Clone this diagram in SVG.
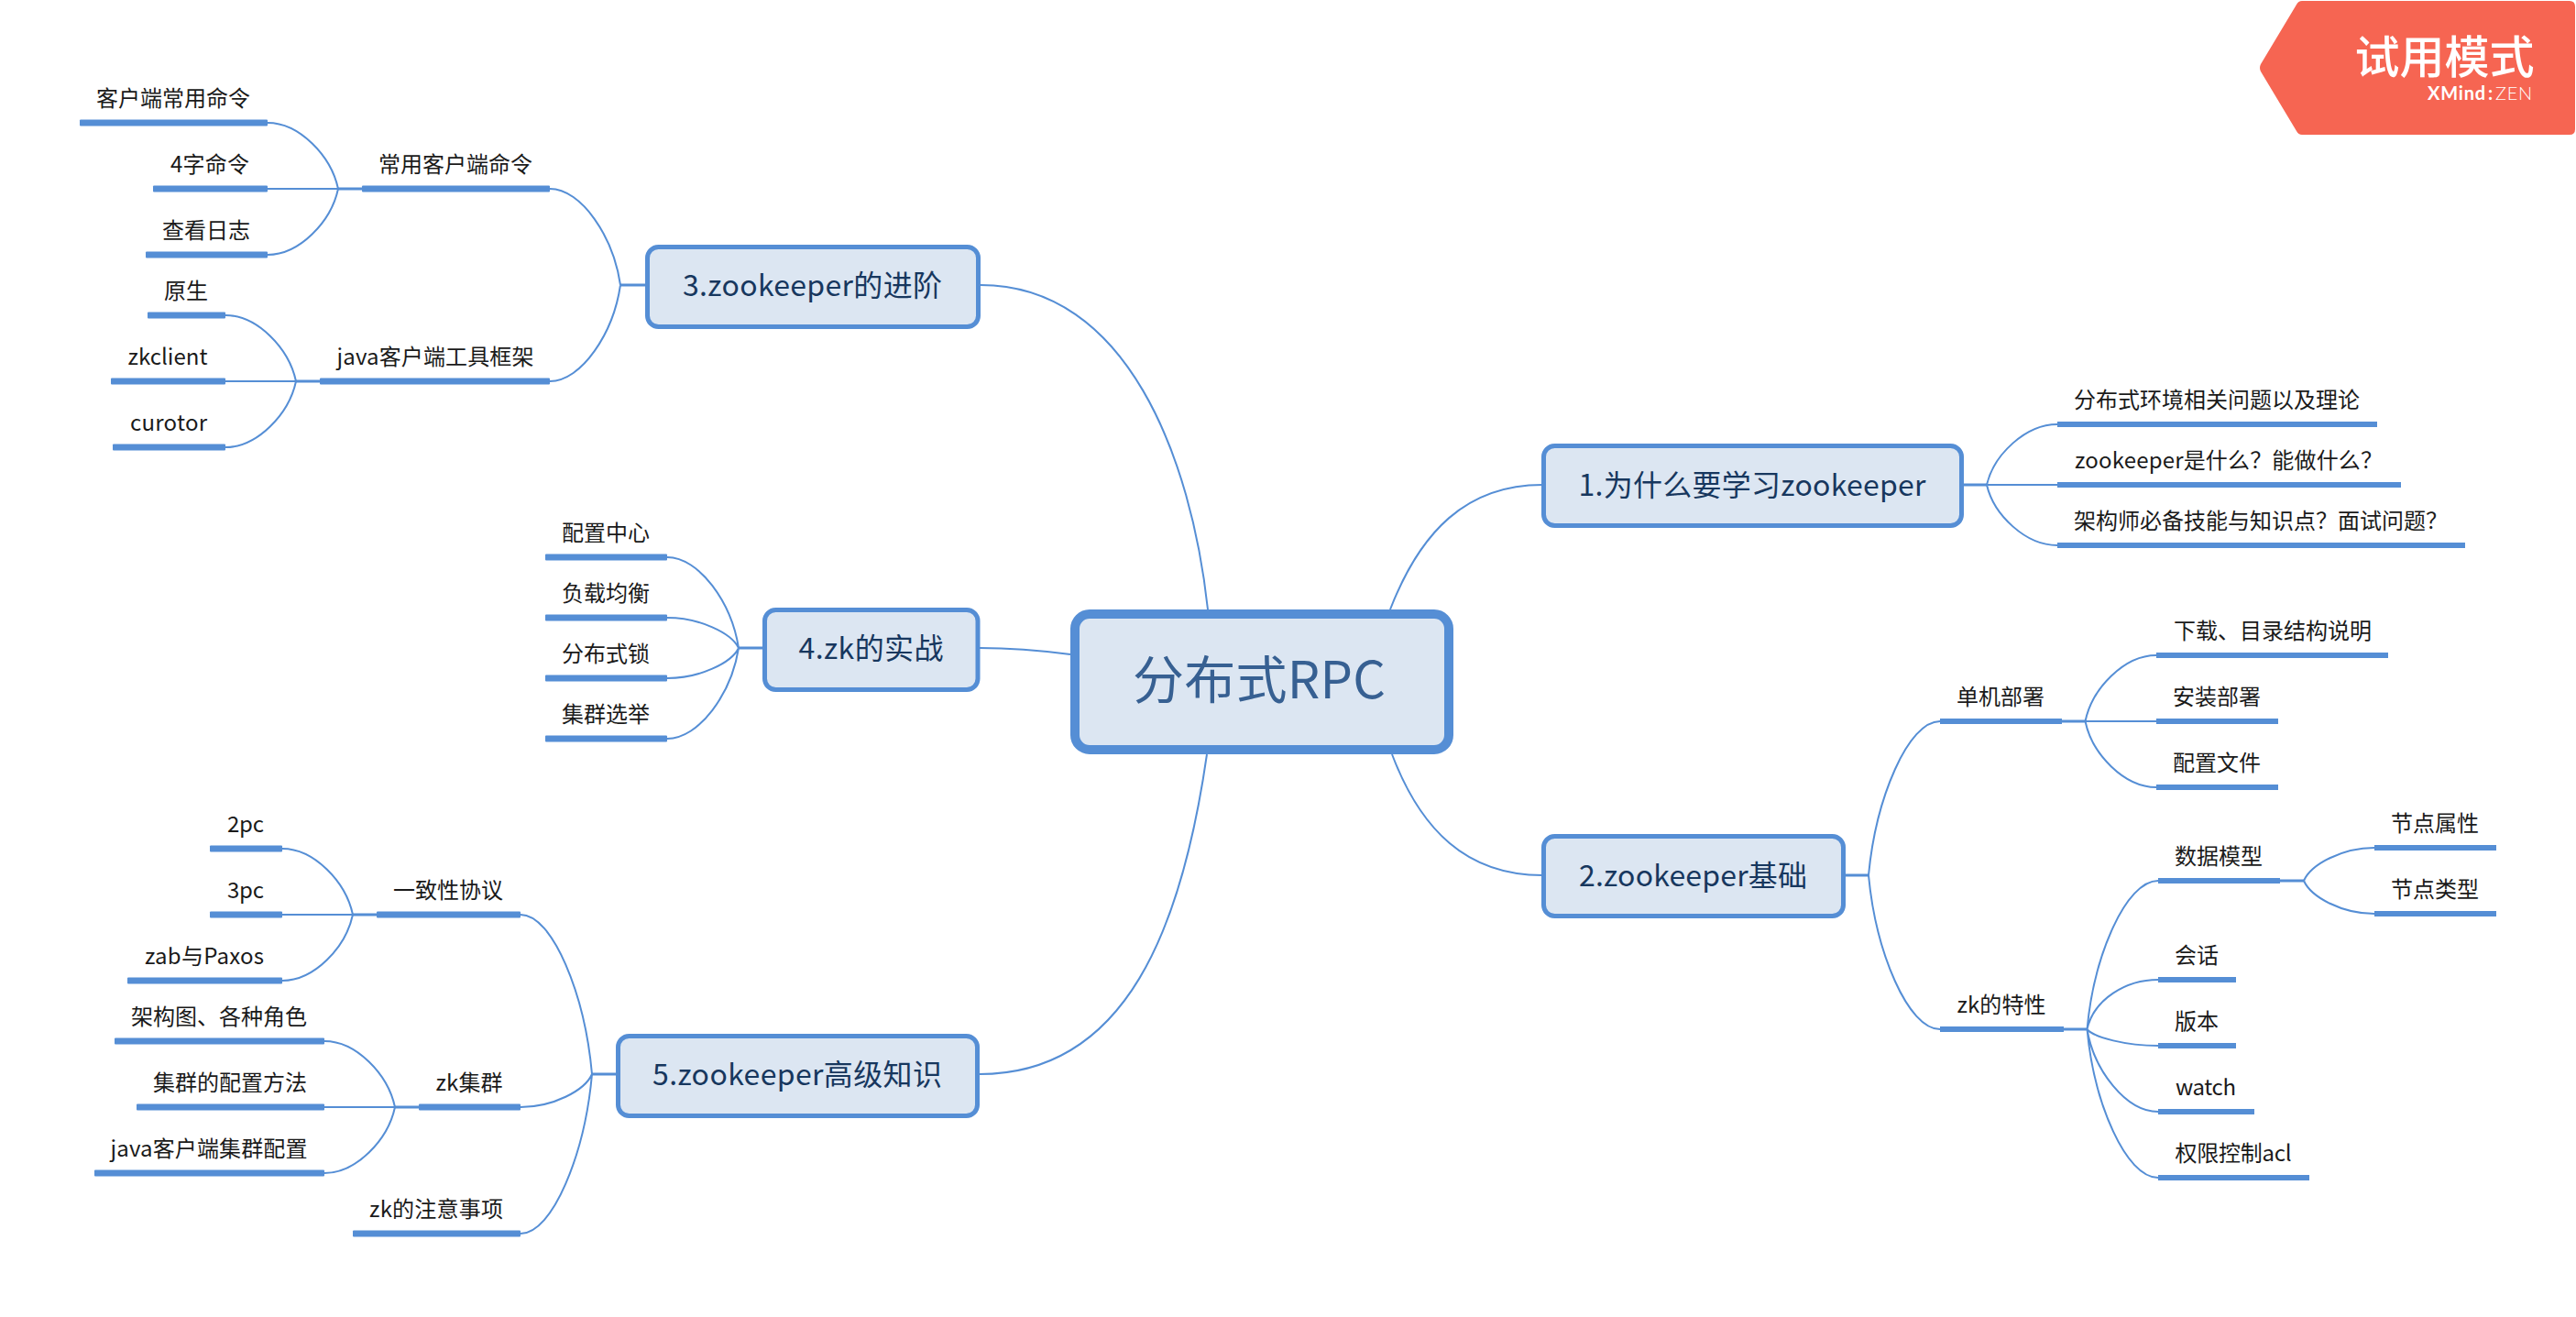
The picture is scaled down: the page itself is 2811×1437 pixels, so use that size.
<svg xmlns="http://www.w3.org/2000/svg" width="2811" height="1437" viewBox="0 0 2811 1437">
<style>
text{font-family:"Noto Sans CJK SC","Noto Sans",sans-serif;text-anchor:middle}
.s{font-size:24px;fill:#1a1a1a}
.t{font-size:32px;fill:#17375E}
.c{font-size:56px;fill:#376092}
.tb{fill:#DCE6F2;stroke:#558ED5;stroke-width:5}
.b{fill:#558ED5}
#connectors path{fill:none;stroke:#558ED5;stroke-width:2}
#connectors .m{stroke-width:3}
</style>
<rect width="2811" height="1437" fill="#fff"/>
<g id="connectors">
<path d="M1318 665C1300 500 1230 311 1070 311"/>
<path d="M1517 665C1550 580 1600 529 1683 529"/>
<path d="M1519 823C1550 905 1600 955 1683 955"/>
<path d="M1317 823C1290 1010 1230 1172 1069 1172"/>
<path d="M1168 714C1130 709 1100 707 1069 707"/>
<path class="m" d="M369 206H395M323 416H349M677 311H705M806 707H833M385 998H411M431 1208H457M646 1172H672M2143 529H2168M2250 787H2275.5M2014 955H2039M2252 1123H2277.5M2488 961H2514"/>
<path d="M369 206C361.3 170 326.7 134 292 134M369 206H292M369 206C361.3 242 326.7 278 292 278"/>
<path d="M323 416C315.3 380 280.7 344 246 344M323 416H246M323 416C315.3 452 280.7 488 246 488"/>
<path d="M677 311C669.3 258.5 634.7 206 600 206M677 311C669.3 363.5 634.7 416 600 416"/>
<path d="M806 707C798.2 657.5 763.1 608 728 608M806 707C798.2 690.5 763.1 674 728 674M806 707C798.2 723.5 763.1 740 728 740M806 707C798.2 756.5 763.1 806 728 806"/>
<path d="M385 998C377.3 962 342.7 926 308 926M385 998H308M385 998C377.3 1034 342.7 1070 308 1070"/>
<path d="M431 1208C423.3 1172 388.7 1136 354 1136M431 1208H354M431 1208C423.3 1244 388.7 1280 354 1280"/>
<path d="M646 1172C638.2 1085 603.1 998 568 998M646 1172C638.2 1190 603.1 1208 568 1208M646 1172C638.2 1259 603.1 1346 568 1346"/>
<path d="M2168 529C2175.7 496 2210.4 463 2245 463M2168 529H2245M2168 529C2175.7 562 2210.4 595 2245 595"/>
<path d="M2275.5 787C2283 751 2318 715 2353 715M2275.5 787H2353M2275.5 787C2283 823 2318 859 2353 859"/>
<path d="M2039 955C2047 871 2082 787 2117 787M2039 955C2047 1039 2082 1123 2117 1123"/>
<path d="M2277.5 1123C2285 1042 2320 961 2355 961M2277.5 1123C2285 1090 2320 1069 2355 1069M2277.5 1123C2285 1132 2320 1141 2355 1141M2277.5 1123C2285 1168 2320 1213 2355 1213M2277.5 1123C2285 1204 2320 1285 2355 1285"/>
<path d="M2514 961C2522 943 2556 925 2591 925M2514 961C2522 979 2556 997 2591 997"/>
</g>
<g id="central"><rect x="1173" y="670" width="408" height="148" rx="16" fill="#DCE6F2" stroke="#558ED5" stroke-width="10"/><text class="c" x="1374" y="762" textLength="276">分布式RPC</text></g>
<g id="topic1"><rect class="tb" x="1684.5" y="486.5" width="456" height="87" rx="12"/><text class="t" x="1912" y="541" textLength="379">1.为什么要学习zookeeper</text></g>
<g id="topic2"><rect class="tb" x="1684.5" y="912.5" width="327" height="87" rx="12"/><text class="t" x="1847.500" y="967" textLength="249">2.zookeeper基础</text></g>
<g id="topic3"><rect class="tb" x="706.500" y="269.5" width="361" height="87" rx="12"/><text class="t" x="886.500" y="323" textLength="283">3.zookeeper的进阶</text></g>
<g id="topic4"><rect class="tb" x="834.500" y="665.5" width="232.500" height="87" rx="12"/><text class="t" x="950.500" y="719" textLength="158">4.zk的实战</text></g>
<g id="topic5"><rect class="tb" x="674.5" y="1130.5" width="392" height="87" rx="12"/><text class="t" x="870" y="1184" textLength="316">5.zookeeper高级知识</text></g>
<g id="n1"><rect class="b" x="2245" y="460" width="349" height="6"/><text class="s" x="2419" y="445">分布式环境相关问题以及理论</text></g>
<g id="n2"><rect class="b" x="2245" y="526" width="375" height="6"/><text class="s" x="2432" y="511" textLength="336">zookeeper是什么？能做什么？</text></g>
<g id="n3"><rect class="b" x="2245" y="592" width="445" height="6"/><text class="s" x="2467" y="577">架构师必备技能与知识点？面试问题？</text></g>
<g id="n4"><rect class="b" x="2117" y="784" width="133" height="6"/><text class="s" x="2183" y="769">单机部署</text></g>
<g id="n5"><rect class="b" x="2353" y="712" width="253" height="6"/><text class="s" x="2480" y="697">下载、目录结构说明</text></g>
<g id="n6"><rect class="b" x="2353" y="784" width="133" height="6"/><text class="s" x="2419" y="769">安装部署</text></g>
<g id="n7"><rect class="b" x="2353" y="856" width="133" height="6"/><text class="s" x="2419" y="841">配置文件</text></g>
<g id="n8"><rect class="b" x="2117" y="1120" width="135" height="6"/><text class="s" x="2184" y="1105" textLength="97">zk的特性</text></g>
<g id="n9"><rect class="b" x="2355" y="958" width="133" height="6"/><text class="s" x="2421" y="943">数据模型</text></g>
<g id="n10"><rect class="b" x="2591" y="922" width="133" height="6"/><text class="s" x="2657" y="907">节点属性</text></g>
<g id="n11"><rect class="b" x="2591" y="994" width="133" height="6"/><text class="s" x="2657" y="979">节点类型</text></g>
<g id="n12"><rect class="b" x="2355" y="1066" width="85" height="6"/><text class="s" x="2397" y="1051">会话</text></g>
<g id="n13"><rect class="b" x="2355" y="1138" width="85" height="6"/><text class="s" x="2397" y="1123">版本</text></g>
<g id="n14"><rect class="b" x="2355" y="1210" width="105" height="6"/><text class="s" x="2407" y="1195" textLength="66">watch</text></g>
<g id="n15"><rect class="b" x="2355" y="1282" width="165" height="6"/><text class="s" x="2437" y="1267" textLength="127">权限控制acl</text></g>
<g id="n16"><rect class="b" x="395" y="202.500" width="205" height="7" rx="1"/><text class="s" x="497" y="188">常用客户端命令</text></g>
<g id="n17"><rect class="b" x="87" y="130.500" width="205" height="7" rx="1"/><text class="s" x="189" y="116">客户端常用命令</text></g>
<g id="n18"><rect class="b" x="167" y="202.500" width="125" height="7" rx="1"/><text class="s" x="229" y="188" textLength="86">4字命令</text></g>
<g id="n19"><rect class="b" x="159" y="274.500" width="133" height="7" rx="1"/><text class="s" x="225" y="260">查看日志</text></g>
<g id="n20"><rect class="b" x="349" y="412.500" width="251" height="7" rx="1"/><text class="s" x="475" y="398" textLength="215">java客户端工具框架</text></g>
<g id="n21"><rect class="b" x="161" y="340.500" width="85" height="7" rx="1"/><text class="s" x="203" y="326">原生</text></g>
<g id="n22"><rect class="b" x="121" y="412.500" width="125" height="7" rx="1"/><text class="s" x="183" y="398" textLength="87">zkclient</text></g>
<g id="n23"><rect class="b" x="123" y="484.500" width="123" height="7" rx="1"/><text class="s" x="184" y="470" textLength="84">curotor</text></g>
<g id="n24"><rect class="b" x="595" y="604.500" width="133" height="7" rx="1"/><text class="s" x="661" y="590">配置中心</text></g>
<g id="n25"><rect class="b" x="595" y="670.500" width="133" height="7" rx="1"/><text class="s" x="661" y="656">负载均衡</text></g>
<g id="n26"><rect class="b" x="595" y="736.500" width="133" height="7" rx="1"/><text class="s" x="661" y="722">分布式锁</text></g>
<g id="n27"><rect class="b" x="595" y="802.500" width="133" height="7" rx="1"/><text class="s" x="661" y="788">集群选举</text></g>
<g id="n28"><rect class="b" x="411" y="994.500" width="157" height="7" rx="1"/><text class="s" x="489" y="980">一致性协议</text></g>
<g id="n29"><rect class="b" x="229" y="922.500" width="79" height="7" rx="1"/><text class="s" x="268" y="908" textLength="40">2pc</text></g>
<g id="n30"><rect class="b" x="229" y="994.500" width="79" height="7" rx="1"/><text class="s" x="268" y="980" textLength="40">3pc</text></g>
<g id="n31"><rect class="b" x="139" y="1066.500" width="169" height="7" rx="1"/><text class="s" x="223" y="1052" textLength="130">zab与Paxos</text></g>
<g id="n32"><rect class="b" x="457" y="1204.500" width="111" height="7" rx="1"/><text class="s" x="512" y="1190" textLength="73">zk集群</text></g>
<g id="n33"><rect class="b" x="125" y="1132.500" width="229" height="7" rx="1"/><text class="s" x="239" y="1118">架构图、各种角色</text></g>
<g id="n34"><rect class="b" x="149" y="1204.500" width="205" height="7" rx="1"/><text class="s" x="251" y="1190">集群的配置方法</text></g>
<g id="n35"><rect class="b" x="103" y="1276.500" width="251" height="7" rx="1"/><text class="s" x="228" y="1262" textLength="215">java客户端集群配置</text></g>
<g id="n36"><rect class="b" x="385" y="1342.500" width="183" height="7" rx="1"/><text class="s" x="476" y="1328" textLength="146">zk的注意事项</text></g>
<g id="watermark"><path d="M2512 1H2804Q2810 1 2810 7V141Q2810 147 2804 147H2512Q2508 147 2506 143L2467 78Q2465 74 2467 70L2506 5Q2508 1 2512 1Z" fill="#F66552"/><text x="2667.500" y="80" font-size="49" font-weight="500" fill="#fff">试用模式</text><text x="2764" y="109" font-size="20" letter-spacing="0.8" fill="#fff" style="text-anchor:end;font-family:Lato,sans-serif"><tspan font-weight="700">XMind</tspan><tspan font-weight="700" dx="2">:</tspan><tspan font-weight="300" dx="2">ZEN</tspan></text></g>
</svg>
